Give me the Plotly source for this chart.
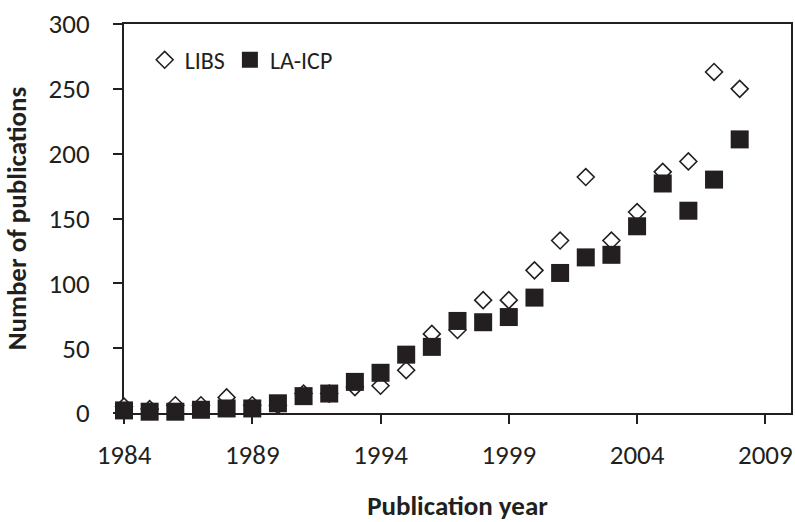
import plotly.graph_objects as go

years = list(range(1984, 2009))
libs = [5, 3, 6, 6, 12, 6, 6, 15, 15, 20, 21, 33, 61, 64, 87, 87, 110, 133, 182, 133, 155, 186, 194, 263, 250]
la_icp = [2, 1, 1, 2.5, 3.5, 3.5, 7.5, 13, 15, 24, 31, 45, 51, 71, 70, 74, 89, 108, 120, 122, 144, 177, 156, 180, 211]
x_ticks = [1984, 1989, 1994, 1999, 2004, 2009]
y_ticks = [0, 50, 100, 150, 200, 250, 300]

ink = "#231f20"
font_family = "Carlito, Calibri, 'Open Sans', sans-serif"

fig = go.Figure()
fig.add_trace(go.Scatter(
    x=years, y=libs, mode="markers", name="LIBS",
    marker=dict(symbol="diamond", size=13, color="white",
                line=dict(color=ink, width=1.6)),
    cliponaxis=False,
))
fig.add_trace(go.Scatter(
    x=years, y=la_icp, mode="markers", name="LA-ICP",
    marker=dict(symbol="square", size=18, color=ink,
                line=dict(color=ink, width=0)),
    cliponaxis=False,
))

fig.update_layout(
    width=795, height=522,
    margin=dict(l=124, r=4, t=24, b=109, autoexpand=False),
    paper_bgcolor="white", plot_bgcolor="white",
    font=dict(family=font_family, color=ink, size=27),
    showlegend=True,
    legend=dict(
        orientation="h", x=0.031, y=0.907, xanchor="left", yanchor="middle",
        font=dict(size=24, color=ink), bgcolor="rgba(0,0,0,0)",
        itemwidth=30, tracegroupgap=0,
    ),
    xaxis=dict(
        range=[1984, 2010], tickvals=x_ticks, ticktext=[str(v) for v in x_ticks],
        ticks="outside", ticklen=9, tickwidth=2, tickcolor=ink,
        showline=True, linecolor=ink, linewidth=2, mirror=True,
        showgrid=False, zeroline=False, ticklabelstandoff=8,
        tickfont=dict(size=27), automargin=False,
        title=dict(text="<b>Publication year</b>", font=dict(size=27), standoff=35),
        layer="below traces",
    ),
    yaxis=dict(
        range=[0, 300], tickvals=y_ticks,
        ticks="outside", ticklen=9, tickwidth=2, tickcolor=ink,
        showline=True, linecolor=ink, linewidth=2, mirror=True,
        showgrid=False, zeroline=False, ticklabelstandoff=18,
        tickfont=dict(size=27), automargin=False,
        title=dict(text="<b>Number of publications</b>", font=dict(size=27), standoff=14),
        layer="below traces",
    ),
)

fig.write_html(
    "out.html",
    config={"displayModeBar": False},
    post_script="document.body.style.margin='0';document.body.style.overflow='hidden';",
)
